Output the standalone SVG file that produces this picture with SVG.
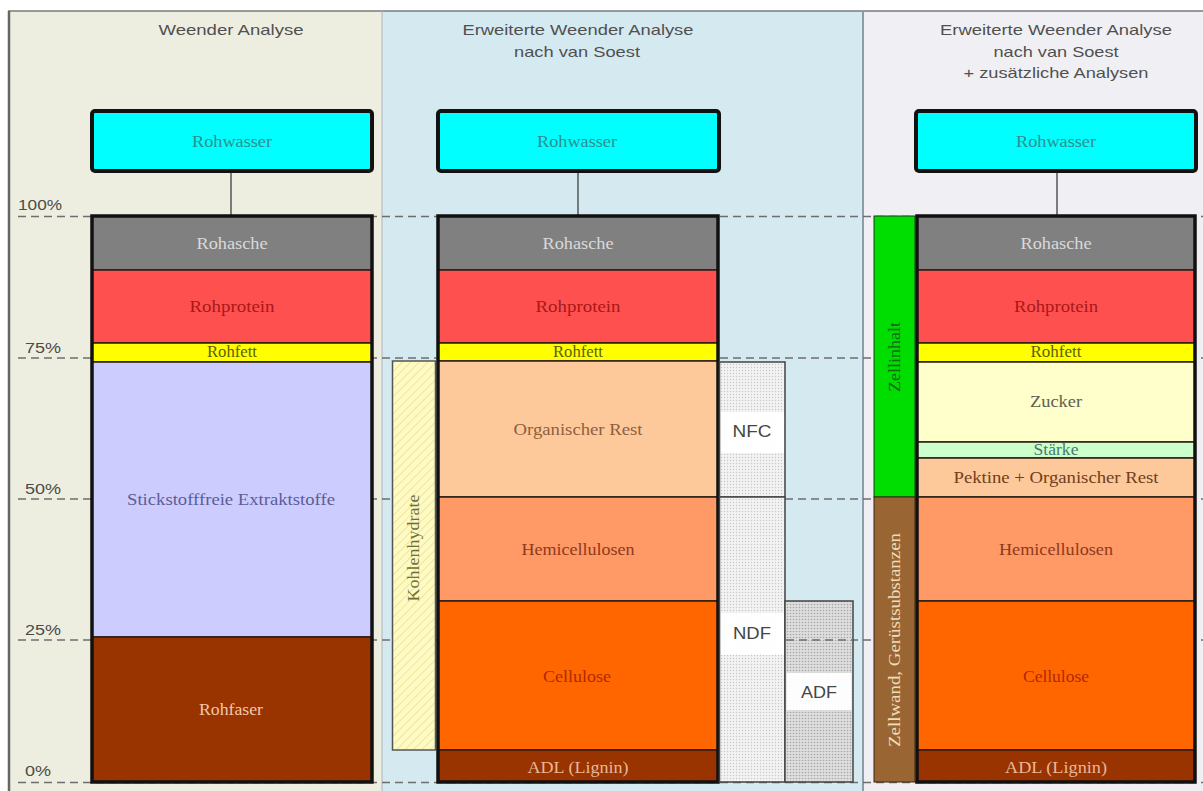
<svg xmlns="http://www.w3.org/2000/svg" width="1203" height="791" viewBox="0 0 1203 791">
<defs>
<style>
.hdr{font-family:"Liberation Sans",Arial,sans-serif;font-size:15px;fill:#505050;text-anchor:middle}
.pct{font-family:"Liberation Sans",Arial,sans-serif;font-size:14px;fill:#4a4a4a}
.lbl{font-family:"Liberation Serif","Times New Roman",serif;font-size:16px;text-anchor:middle}
.sans{font-family:"Liberation Sans",Arial,sans-serif;font-size:17px;fill:#454545;text-anchor:middle}
.seg{stroke:#2a1c14;stroke-width:1.5}
.outline{fill:none;stroke:#111;stroke-width:3.5}
.wbox{fill:#1ff;fill:#00ffff;stroke:#111;stroke-width:4}
.dash{stroke:#6e6e6e;stroke-width:1.5;stroke-dasharray:8 5;fill:none}
.conn{stroke:#555;stroke-width:1.5}
</style>
<pattern id="dotsL" width="3" height="3" patternUnits="userSpaceOnUse">
<rect width="3" height="3" fill="#f3f3f3"/>
<circle cx="1.5" cy="1.5" r="0.7" fill="#c6c6c6"/>
</pattern>
<pattern id="dotsD" width="3" height="3" patternUnits="userSpaceOnUse">
<rect width="3" height="3" fill="#dedede"/>
<circle cx="1.5" cy="1.5" r="0.8" fill="#a6a6a6"/>
</pattern>
<pattern id="hatch" width="6" height="6" patternUnits="userSpaceOnUse" patternTransform="rotate(45)">
<rect width="6" height="6" fill="#fdfac4"/>
<line x1="0" y1="0" x2="0" y2="6" stroke="#efe69a" stroke-width="2"/>
</pattern>
</defs>

<!-- panels -->
<rect x="0" y="0" width="1203" height="791" fill="#ffffff"/>
<rect x="8" y="11" width="374" height="780" fill="#eeeee0"/>
<rect x="382" y="11" width="481" height="780" fill="#d5e9f0"/>
<rect x="863" y="11" width="340" height="780" fill="#f0f0f4"/>
<line x1="8" y1="11" x2="1203" y2="11" stroke="#7a7a7a" stroke-width="1.5"/>
<line x1="9" y1="11" x2="9" y2="791" stroke="#666" stroke-width="2.5"/>
<line x1="382" y1="11" x2="382" y2="791" stroke="#aeb6b8" stroke-width="1"/>
<line x1="863" y1="11" x2="863" y2="791" stroke="#8c9ca8" stroke-width="2"/>

<text class="hdr" x="231" y="35" textLength="145" lengthAdjust="spacingAndGlyphs">Weender Analyse</text>
<text class="hdr" x="578" y="35" textLength="231" lengthAdjust="spacingAndGlyphs">Erweiterte Weender Analyse</text>
<text class="hdr" x="577" y="57" textLength="126" lengthAdjust="spacingAndGlyphs">nach van Soest</text>
<text class="hdr" x="1056" y="35" textLength="232" lengthAdjust="spacingAndGlyphs">Erweiterte Weender Analyse</text>
<text class="hdr" x="1056" y="57" textLength="125" lengthAdjust="spacingAndGlyphs">nach van Soest</text>
<text class="hdr" x="1056" y="78" textLength="185" lengthAdjust="spacingAndGlyphs">+ zusätzliche Analysen</text>

<!-- percent grid -->
<g id="grid">
<line class="dash" x1="18" y1="216.5" x2="1203" y2="216.5"/>
<line class="dash" x1="18" y1="358" x2="1203" y2="358"/>
<line class="dash" x1="18" y1="499" x2="1203" y2="499"/>
<line class="dash" x1="18" y1="640" x2="1203" y2="640"/>
<line class="dash" x1="18" y1="782.5" x2="1203" y2="782.5"/>
<text class="pct" x="18" y="210" textLength="44" lengthAdjust="spacingAndGlyphs">100%</text>
<text class="pct" x="25" y="353" textLength="36" lengthAdjust="spacingAndGlyphs">75%</text>
<text class="pct" x="25" y="494" textLength="36" lengthAdjust="spacingAndGlyphs">50%</text>
<text class="pct" x="25" y="635" textLength="36" lengthAdjust="spacingAndGlyphs">25%</text>
<text class="pct" x="25" y="776" textLength="26" lengthAdjust="spacingAndGlyphs">0%</text>
</g>

<!-- connectors -->
<g id="connectors">
<line class="conn" x1="231" y1="172" x2="231" y2="216"/>
<line class="conn" x1="578" y1="172" x2="578" y2="216"/>
<line class="conn" x1="1057" y1="172" x2="1057" y2="216"/>
</g>

<!-- Rohwasser boxes -->
<g id="rohwasser-1">
<rect class="wbox" x="92" y="111" width="280" height="60" rx="3"/>
<text class="lbl" x="232" y="147" fill="#2e8e8e" textLength="80" lengthAdjust="spacingAndGlyphs">Rohwasser</text>
</g>
<g id="rohwasser-2">
<rect class="wbox" x="438" y="111" width="281" height="60" rx="3"/>
<text class="lbl" x="577" y="147" fill="#2e8e8e" textLength="80" lengthAdjust="spacingAndGlyphs">Rohwasser</text>
</g>
<g id="rohwasser-3">
<rect class="wbox" x="916" y="111" width="280" height="60" rx="3"/>
<text class="lbl" x="1056" y="147" fill="#2e8e8e" textLength="80" lengthAdjust="spacingAndGlyphs">Rohwasser</text>
</g>

<!-- Left stack: Weender -->
<g id="stack-weender">
<rect class="seg" x="92" y="216" width="280" height="54" fill="#808080"/>
<rect class="seg" x="92" y="270" width="280" height="73" fill="#ff5050"/>
<rect class="seg" x="92" y="343" width="280" height="19" fill="#ffff00"/>
<rect class="seg" x="92" y="362" width="280" height="275" fill="#ccccff"/>
<rect class="seg" x="92" y="637" width="280" height="145" fill="#993300"/>
<rect class="outline" x="92" y="216" width="280" height="566"/>
<text class="lbl" x="232" y="249" fill="#dadada" textLength="71" lengthAdjust="spacingAndGlyphs">Rohasche</text>
<text class="lbl" x="232" y="312" fill="#a81818" textLength="85" lengthAdjust="spacingAndGlyphs">Rohprotein</text>
<text class="lbl" x="232" y="357" fill="#5e5e00" font-size="13" textLength="50" lengthAdjust="spacingAndGlyphs">Rohfett</text>
<text class="lbl" x="231" y="505" fill="#5c5c98" textLength="208" lengthAdjust="spacingAndGlyphs">Stickstofffreie Extraktstoffe</text>
<text class="lbl" x="231" y="715" fill="#f2c8aa" textLength="64" lengthAdjust="spacingAndGlyphs">Rohfaser</text>
</g>

<!-- Kohlenhydrate bar -->
<g id="kohlenhydrate">
<rect x="392.5" y="361" width="43" height="389" fill="url(#hatch)" stroke="#555" stroke-width="1.5"/>
<text class="lbl" transform="translate(419 548) rotate(-90)" fill="#6e6e3c" font-size="14" textLength="107" lengthAdjust="spacingAndGlyphs">Kohlenhydrate</text>
</g>

<!-- Middle stack -->
<g id="stack-vansoest">
<rect class="seg" x="438" y="216" width="280" height="54" fill="#808080"/>
<rect class="seg" x="438" y="270" width="280" height="73" fill="#ff5050"/>
<rect class="seg" x="438" y="343" width="280" height="18" fill="#ffff00"/>
<rect class="seg" x="438" y="361" width="280" height="136" fill="#fec99a"/>
<rect class="seg" x="438" y="497" width="280" height="104" fill="#ff9966"/>
<rect class="seg" x="438" y="601" width="280" height="149" fill="#ff6600"/>
<rect class="seg" x="438" y="750" width="280" height="32" fill="#993300"/>
<rect class="outline" x="438" y="216" width="280" height="566"/>
<text class="lbl" x="578" y="249" fill="#dadada" textLength="71" lengthAdjust="spacingAndGlyphs">Rohasche</text>
<text class="lbl" x="578" y="312" fill="#a81818" textLength="85" lengthAdjust="spacingAndGlyphs">Rohprotein</text>
<text class="lbl" x="578" y="357" fill="#5e5e00" font-size="13" textLength="50" lengthAdjust="spacingAndGlyphs">Rohfett</text>
<text class="lbl" x="578" y="435" fill="#8e6040" textLength="129" lengthAdjust="spacingAndGlyphs">Organischer Rest</text>
<text class="lbl" x="578" y="555" fill="#8e3a1a" textLength="113" lengthAdjust="spacingAndGlyphs">Hemicellulosen</text>
<text class="lbl" x="577" y="682" fill="#b02a00" textLength="68" lengthAdjust="spacingAndGlyphs">Cellulose</text>
<text class="lbl" x="578" y="773" fill="#e8b898" textLength="101" lengthAdjust="spacingAndGlyphs">ADL (Lignin)</text>
</g>

<!-- NFC / NDF / ADF columns -->
<g id="nfc">
<rect x="719.5" y="362" width="65.5" height="135" fill="url(#dotsL)" stroke="#444" stroke-width="1.5"/>
<rect x="721" y="412" width="63" height="41" fill="#ffffff" opacity="0.95"/>
<text class="sans" x="752" y="437" textLength="39" lengthAdjust="spacingAndGlyphs">NFC</text>
</g>
<g id="ndf">
<rect x="719.5" y="497" width="65.5" height="285" fill="url(#dotsL)" stroke="#444" stroke-width="1.5"/>
<rect x="721" y="613" width="63" height="42" fill="#ffffff" opacity="0.95"/>
<text class="sans" x="752" y="639" textLength="38" lengthAdjust="spacingAndGlyphs">NDF</text>
</g>
<g id="adf">
<rect x="785" y="601" width="68" height="181" fill="url(#dotsD)" stroke="#444" stroke-width="1.5"/>
<line class="dash" x1="786" y1="640" x2="852" y2="640"/>
<rect x="786.5" y="673" width="65" height="37" fill="#ffffff" opacity="0.95"/>
<text class="sans" x="819" y="698" textLength="36" lengthAdjust="spacingAndGlyphs">ADF</text>
</g>

<!-- Zellinhalt / Zellwand bars -->
<g id="zellinhalt">
<rect x="874" y="216" width="41" height="281" fill="#00dd00" stroke="#1a3a1a" stroke-width="1"/>
<text class="lbl" transform="translate(900 357) rotate(-90)" fill="#106a10" font-size="14" textLength="70" lengthAdjust="spacingAndGlyphs">Zellinhalt</text>
</g>
<g id="zellwand">
<rect x="874" y="497" width="41" height="285" fill="#996633" stroke="#3a2410" stroke-width="1"/>
<text class="lbl" transform="translate(900 640) rotate(-90)" fill="#ecdcbc" font-size="14" textLength="214" lengthAdjust="spacingAndGlyphs">Zellwand, Gerüstsubstanzen</text>
</g>

<!-- Right stack -->
<g id="stack-erweitert">
<rect class="seg" x="917" y="216" width="278" height="54" fill="#808080"/>
<rect class="seg" x="917" y="270" width="278" height="73" fill="#ff5050"/>
<rect class="seg" x="917" y="343" width="278" height="19" fill="#ffff00"/>
<rect class="seg" x="917" y="362" width="278" height="80" fill="#ffffcc"/>
<rect class="seg" x="917" y="442" width="278" height="16" fill="#ccffcc"/>
<rect class="seg" x="917" y="458" width="278" height="39" fill="#fec99a"/>
<rect class="seg" x="917" y="497" width="278" height="104" fill="#ff9966"/>
<rect class="seg" x="917" y="601" width="278" height="149" fill="#ff6600"/>
<rect class="seg" x="917" y="750" width="278" height="32" fill="#993300"/>
<rect class="outline" x="917" y="216" width="278" height="566"/>
<text class="lbl" x="1056" y="249" fill="#dadada" textLength="71" lengthAdjust="spacingAndGlyphs">Rohasche</text>
<text class="lbl" x="1056" y="312" fill="#a81818" textLength="84" lengthAdjust="spacingAndGlyphs">Rohprotein</text>
<text class="lbl" x="1056" y="357" fill="#5e5e00" font-size="13" textLength="51" lengthAdjust="spacingAndGlyphs">Rohfett</text>
<text class="lbl" x="1056" y="407" fill="#5e5e50" textLength="52" lengthAdjust="spacingAndGlyphs">Zucker</text>
<text class="lbl" x="1056" y="455" fill="#4a7a70" font-size="13" textLength="45" lengthAdjust="spacingAndGlyphs">Stärke</text>
<text class="lbl" x="1056" y="483" fill="#6e4020" textLength="205" lengthAdjust="spacingAndGlyphs">Pektine + Organischer Rest</text>
<text class="lbl" x="1056" y="555" fill="#8e3a1a" textLength="114" lengthAdjust="spacingAndGlyphs">Hemicellulosen</text>
<text class="lbl" x="1056" y="682" fill="#b02a00" textLength="66" lengthAdjust="spacingAndGlyphs">Cellulose</text>
<text class="lbl" x="1056" y="773" fill="#e8b898" textLength="102" lengthAdjust="spacingAndGlyphs">ADL (Lignin)</text>
</g>
</svg>
